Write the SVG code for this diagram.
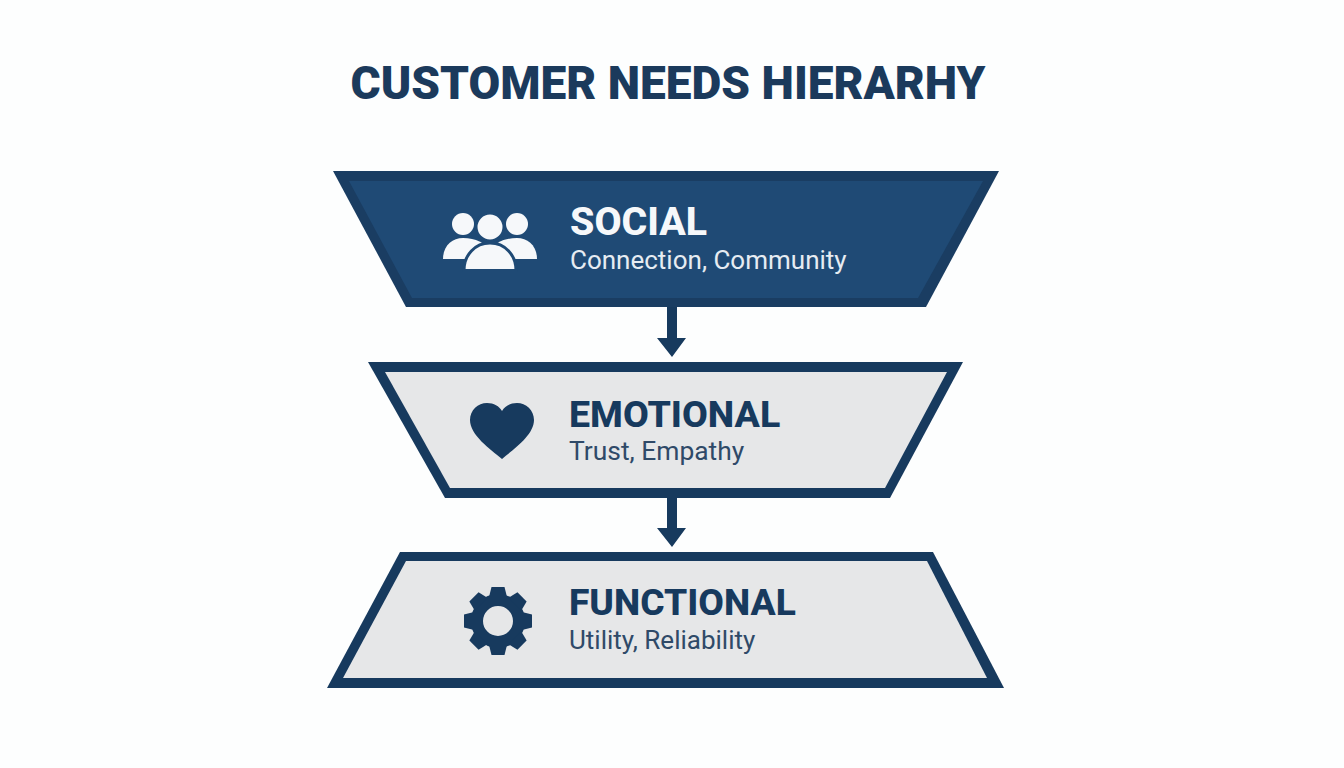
<svg xmlns="http://www.w3.org/2000/svg" width="1344" height="768" viewBox="0 0 1344 768">
<style>
text{font-family:Roboto,"Liberation Sans",sans-serif}
.h{font-weight:800;font-size:37.500px}
.s{font-size:26px}
.b{fill:#173a5e}
.l{fill:#e6e7e8}
.dt{fill:#173a5e}
.ds{fill:#2f4a68}
.p{fill:#f6f8fa}
.c{fill:#f6f8fa;stroke:#1f4a75;stroke-width:3}
</style>
<defs><path id="tooth" class="b" d="M-9-24L-6.500-34H6.500L9-24Z"/></defs>
<rect width="1344" height="768" fill="#fdfefe"/>
<text x="668" y="99" text-anchor="middle" font-size="46" font-weight="900" fill="#1b3a5c">CUSTOMER NEEDS HIERARHY</text>
<g id="connectors">
<path class="b" d="M667 305H677V338H686L672 357L657 338H667Z"/>
<path class="b" d="M667 496H677V528H686L672 547L657 528H667Z"/>
</g>
<g id="social">
<path fill="#1a3d62" d="M333 171H999L926 307H406Z"/>
<path fill="#1f4a75" d="M349 181H983L918 298H412Z"/>
<circle class="p" cx="463" cy="224" r="11"/><circle class="p" cx="517" cy="224" r="11"/>
<path class="p" d="M443 259C443 246 452 238 463 238C476 238 485 243 490 250L475 259Z"/>
<path class="p" d="M537 259C537 246 528 238 517 238C504 238 495 243 490 250L505 259Z"/>
<circle class="c" cx="490" cy="227" r="14"/>
<path class="c" d="M464 270.500C464 255 475 243 490 243C505 243 516 255 516 270.500Z"/>
<text class="h" x="570" y="235" fill="#f6f8fa" font-size="39" style="font-size:39.300px">SOCIAL</text>
<text class="s" x="570" y="269" fill="#e6ecf2">Connection, Community</text>
</g>
<g id="emotional">
<path class="b" d="M368 362H963L890 498H445Z"/>
<path class="l" d="M385 372H947L885 488H450Z"/>
<path class="b" d="M502 459C490 449 470 435 470 420C470 410 478 403 487 403C494 403 499 406 502 411C505 406 510 403 517 403C526 403 534 410 534 420C534 435 514 449 502 459Z"/>
<text class="h dt" x="569" y="427">EMOTIONAL</text>
<text class="s ds" x="569" y="460" style="font-size:26.400px">Trust, Empathy</text>
</g>
<g id="functional">
<path class="b" d="M400 552H933L1004 688H327Z"/>
<path class="l" d="M406 561H927L987 678H343Z"/>
<circle cx="498" cy="621" r="21" fill="none" stroke="#173a5e" stroke-width="12"/>
<g transform="translate(498 621)">
<use href="#tooth"/>
<use href="#tooth" transform="rotate(45)"/>
<use href="#tooth" transform="rotate(90)"/>
<use href="#tooth" transform="rotate(135)"/>
<use href="#tooth" transform="rotate(180)"/>
<use href="#tooth" transform="rotate(225)"/>
<use href="#tooth" transform="rotate(270)"/>
<use href="#tooth" transform="rotate(315)"/>
</g>
<text class="h dt" x="569" y="615" style="font-size:37.200px">FUNCTIONAL</text>
<text class="s ds" x="569" y="649">Utility, Reliability</text>
</g>
</svg>
